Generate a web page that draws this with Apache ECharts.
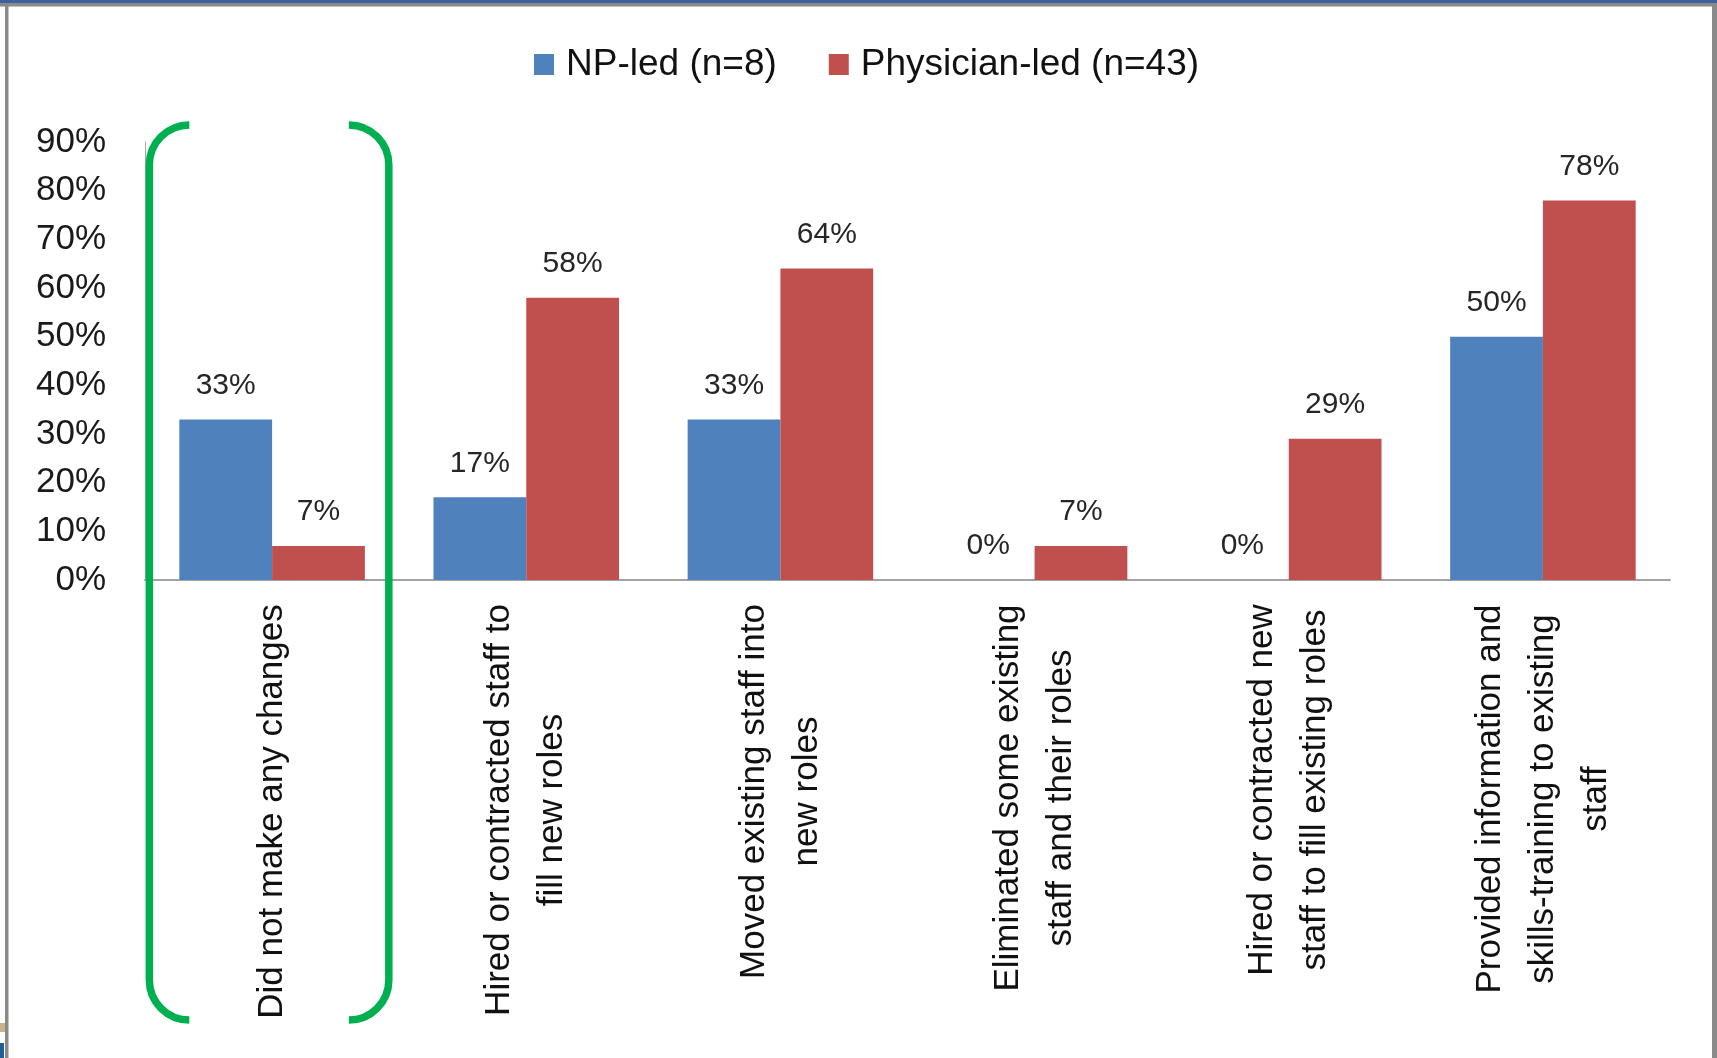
<!DOCTYPE html>
<html>
<head>
<meta charset="utf-8">
<script src="https://cdn.jsdelivr.net/npm/echarts@6/dist/echarts.min.js"></script>
<style>
  html, body { margin: 0; padding: 0; background: #fff; }
  #chart { width: 1717px; height: 1058px; }
</style>
</head>
<body>
<div id="chart"></div>
<script>
// ---- Data ----
const categories = [
  'Did not make any changes',
  'Hired or contracted staff to\nfill new roles',
  'Moved existing staff into\nnew roles',
  'Eliminated some existing\nstaff and their roles',
  'Hired or contracted new\nstaff to fill existing roles',
  'Provided information and\nskills-training to existing\nstaff'
];
const seriesNames = ['NP-led (n=8)', 'Physician-led (n=43)'];
const npLed = [33, 17, 33, 0, 0, 50];
const physicianLed = [7, 58, 64, 7, 29, 78];
const yMin = 0, yMax = 90, yStep = 10;

// ---- Styling ----
const FONT = '"Liberation Sans", Arial, sans-serif';
const CAT_SIZE = 35;
const ctx = document.createElement('canvas').getContext('2d');
ctx.font = CAT_SIZE + 'px "Liberation Sans"';
const rich = {};
categories.forEach((c, i) => {
  const w = Math.max(...c.split('\n').map(l => ctx.measureText(l).width));
  rich['c' + i] = {
    width: Math.ceil(w) + 2, align: 'center',
    fontSize: CAT_SIZE, fontFamily: FONT, lineHeight: 53, color: '#111'
  };
});

const chart = echarts.init(document.getElementById('chart'), null, { renderer: 'canvas' });

const labelCfg = {
  show: true, position: 'top', distance: 19,
  fontSize: 30, fontFamily: FONT, color: '#262626',
  formatter: p => p.value + '%'
};

chart.setOption({
  animation: false,
  backgroundColor: '#fff',
  legend: {
    left: 529, top: 41,
    itemWidth: 20, itemHeight: 21, itemGap: 52,
    icon: 'rect',
    textStyle: { fontSize: 37, fontFamily: FONT, color: '#111', padding: [0, 0, 0, 7] },
    data: seriesNames
  },
  grid: { left: 145, right: 47, top: 142, bottom: 478, containLabel: false },
  xAxis: {
    type: 'category',
    data: categories,
    axisLine: { show: true, lineStyle: { color: '#A3A3A3', width: 2 } },
    axisTick: { show: false },
    axisLabel: {
      interval: 0, rotate: 90, margin: 23,
      formatter: (v, i) => '{c' + i + '|' + v + '}',
      rich: rich
    }
  },
  yAxis: {
    type: 'value', min: yMin, max: yMax, interval: yStep,
    splitLine: { show: false },
    axisLine: { show: true, lineStyle: { color: '#A8A8A8', width: 1 } },
    axisTick: { show: false },
    axisLabel: {
      margin: 39, fontSize: 35, fontFamily: FONT, color: '#1a1a1a',
      formatter: '{value}%'
    }
  },
  series: [
    {
      name: seriesNames[0], type: 'bar', data: npLed,
      barGap: '0%', barCategoryGap: '27%',
      itemStyle: { color: '#4F81BD' },
      label: labelCfg
    },
    {
      name: seriesNames[1], type: 'bar', data: physicianLed,
      barGap: '0%', barCategoryGap: '27%',
      itemStyle: { color: '#C0504D' },
      label: labelCfg
    }
  ]
});

// ---- Annotations: frame and green bracket around the first category ----
const cx = chart.convertToPixel({ xAxisIndex: 0 }, categories[0]) - 3;
const xL = cx - 119.75, xR = cx + 119.75;
const yT = 125, yB = 1020, r = 40;
const G = '#00B050', LW = 7.5;
const st = { stroke: G, lineWidth: LW, fill: null, lineCap: 'butt' };
const PI = Math.PI;
chart.setOption({
  graphic: [
    { type: 'rect', shape: { x: 0, y: 0, width: 1717, height: 3 }, style: { fill: '#3B63A0' }, z: 100 },
    { type: 'rect', shape: { x: 0, y: 3, width: 1717, height: 3.5 }, style: { fill: '#8A8A8A' }, z: 100 },
    { type: 'rect', shape: { x: 5, y: 3, width: 3.5, height: 1055 }, style: { fill: '#8A8A8A' }, z: 100 },
    { type: 'rect', shape: { x: 1712, y: 3, width: 5, height: 1055 }, style: { fill: '#8A8A8A' }, z: 100 },
    { type: 'rect', shape: { x: 0, y: 1023, width: 5, height: 9 }, style: { fill: '#C9B38A' }, z: 100 },
    { type: 'rect', shape: { x: 0, y: 1043, width: 4, height: 15 }, style: { fill: '#1F5F9A' }, z: 100 },
    // left bracket
    { type: 'arc', shape: { cx: xL + r, cy: yT + r, r: r, startAngle: PI, endAngle: 1.5 * PI, clockwise: true }, style: st, z: 50 },
    { type: 'line', shape: { x1: xL, y1: yT + r, x2: xL, y2: yB - r }, style: st, z: 50 },
    { type: 'arc', shape: { cx: xL + r, cy: yB - r, r: r, startAngle: 0.5 * PI, endAngle: PI, clockwise: true }, style: st, z: 50 },
    // right bracket
    { type: 'arc', shape: { cx: xR - r, cy: yT + r, r: r, startAngle: 1.5 * PI, endAngle: 2 * PI, clockwise: true }, style: st, z: 50 },
    { type: 'line', shape: { x1: xR, y1: yT + r, x2: xR, y2: yB - r }, style: st, z: 50 },
    { type: 'arc', shape: { cx: xR - r, cy: yB - r, r: r, startAngle: 0, endAngle: 0.5 * PI, clockwise: true }, style: st, z: 50 }
  ]
});
</script>
</body>
</html>
